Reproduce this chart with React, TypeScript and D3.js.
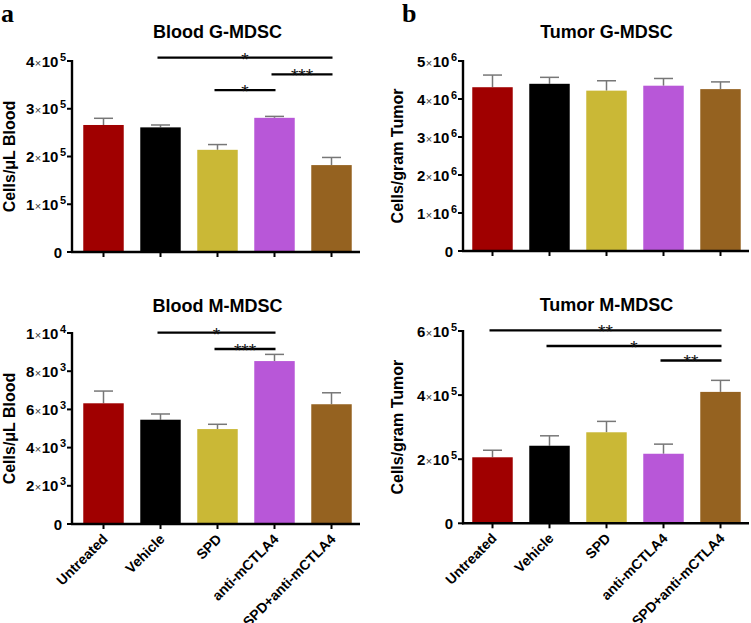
import React from "react";
import * as d3 from "d3";

const categories = ["Untreated", "Vehicle", "SPD", "anti-mCTLA4", "SPD+anti-mCTLA4"];
const colors = ["#a00000", "#000000", "#cab836", "#b857d8", "#956220"];

const bloodGMean = [2.66e5, 2.61e5, 2.14e5, 2.81e5, 1.82e5];
const bloodGErr = [0.14e5, 0.05e5, 0.11e5, 0.03e5, 0.16e5];
const bloodGTicks = [0, 1e5, 2e5, 3e5, 4e5];
const bloodGSig: [number, number, string, number][] = [
  [1, 4, "*", 4.07e5],
  [3, 4, "***", 3.72e5],
  [2, 3, "*", 3.39e5],
];

const bloodMMean = [6.32e3, 5.46e3, 4.97e3, 8.53e3, 6.27e3];
const bloodMErr = [0.64e3, 0.3e3, 0.25e3, 0.35e3, 0.6e3];
const bloodMTicks = [0, 2e3, 4e3, 6e3, 8e3, 1e4];
const bloodMSig: [number, number, string, number][] = [
  [1, 3, "*", 10.02e3],
  [2, 3, "***", 9.16e3],
];

const tumorGMean = [4.31e6, 4.4e6, 4.22e6, 4.35e6, 4.26e6];
const tumorGErr = [0.32e6, 0.17e6, 0.26e6, 0.19e6, 0.19e6];
const tumorGTicks = [0, 1e6, 2e6, 3e6, 4e6, 5e6];
const tumorGSig: [number, number, string, number][] = [];

const tumorMMean = [2.06e5, 2.42e5, 2.84e5, 2.17e5, 4.1e5];
const tumorMErr = [0.22e5, 0.31e5, 0.34e5, 0.3e5, 0.36e5];
const tumorMTicks = [0, 2e5, 4e5, 6e5];
const tumorMSig: [number, number, string, number][] = [
  [0, 4, "**", 6.02e5],
  [1, 4, "*", 5.53e5],
  [3, 4, "**", 5.08e5],
];

const FONT = "Arial, 'Liberation Sans', Helvetica, sans-serif";

type PanelProps = {
  title: string;
  titleY: number;
  yLabel: string;
  yLabelX: number;
  axisX: number;
  x0: number;
  y0: number;
  yTop: number;
  ticks: number[];
  means: number[];
  errs: number[];
  sigs: [number, number, string, number][];
  showXLabels: boolean;
};

function TickLabel({ v, x, y }: { v: number; x: number; y: number }) {
  if (v === 0) {
    return (
      <text x={x - 5} y={y + 5.5} textAnchor="end" fontFamily={FONT} fontWeight="bold" fontSize={15}>
        0
      </text>
    );
  }
  const exp = Math.floor(Math.log10(v) + 1e-9);
  const m = Math.round(v / Math.pow(10, exp));
  return (
    <text x={x - 1} y={y + 5.5} textAnchor="end" fontFamily={FONT} fontWeight="bold" fontSize={15}>
      <tspan>{m}</tspan>
      <tspan fontSize={11} fontWeight="normal" fill="#333" dx={0.5}>×</tspan>
      <tspan dx={0.5}>10</tspan>
      <tspan fontSize={11} dy={-6} dx={1.5}>{exp}</tspan>
    </text>
  );
}

function Panel(p: PanelProps) {
  const maxV = p.ticks[p.ticks.length - 1];
  const y = d3.scaleLinear().domain([0, maxV]).range([p.y0, p.yTop]);
  const x = d3
    .scaleBand<string>()
    .domain(categories)
    .range([p.x0, p.x0 + 285])
    .paddingInner(0.29)
    .paddingOuter(0.145);
  const bw = x.bandwidth();
  const cx = (i: number) => (x(categories[i]) as number) + bw / 2;
  const plotMid = (p.y0 + p.yTop) / 2;
  return (
    <g>
      <text
        x={cx(2)}
        y={p.titleY}
        textAnchor="middle"
        fontFamily={FONT}
        fontWeight="bold"
        fontSize={18}
      >
        {p.title}
      </text>
      <text
        transform={`translate(${p.yLabelX},${plotMid}) rotate(-90)`}
        textAnchor="middle"
        fontFamily={FONT}
        fontWeight="bold"
        fontSize={16}
      >
        {p.yLabel}
      </text>
      {p.means.map((m, i) => (
        <g key={i}>
          <line
            x1={cx(i)}
            x2={cx(i)}
            y1={y(m)}
            y2={y(m + p.errs[i])}
            stroke="#777"
            strokeWidth={1.5}
          />
          <line
            x1={cx(i) - 9.5}
            x2={cx(i) + 9.5}
            y1={y(m + p.errs[i])}
            y2={y(m + p.errs[i])}
            stroke="#777"
            strokeWidth={1.5}
          />
          <rect
            x={x(categories[i])}
            y={y(m)}
            width={bw}
            height={p.y0 - y(m)}
            fill={colors[i]}
          />
        </g>
      ))}
      <line x1={p.axisX} x2={p.axisX} y1={p.yTop - 1} y2={p.y0 + 1} stroke="#000" strokeWidth={2.4} />
      {p.ticks.map((t) => (
        <g key={t}>
          <line x1={p.axisX - 5} x2={p.axisX} y1={y(t)} y2={y(t)} stroke="#000" strokeWidth={2} />
          <TickLabel v={t} x={p.axisX - 5} y={y(t)} />
        </g>
      ))}
      <line x1={p.axisX - 1} x2={p.x0 + 285} y1={p.y0} y2={p.y0} stroke="#000" strokeWidth={2.4} />
      {categories.map((c, i) => (
        <g key={c}>
          <line x1={cx(i)} x2={cx(i)} y1={p.y0} y2={p.y0 + 5} stroke="#000" strokeWidth={2} />
          {p.showXLabels && (
            <text
              transform={`translate(${cx(i) + 5},${p.y0 + 16}) rotate(-45)`}
              textAnchor="end"
              fontFamily={FONT}
              fontWeight="bold"
              fontSize={14}
            >
              {c}
            </text>
          )}
        </g>
      ))}
      {p.sigs.map(([a, b, lab, v], k) => {
        const x1 = cx(a) - 3;
        const x2 = cx(b) + 1;
        const yy = y(v);
        return (
          <g key={k}>
            <line x1={x1} x2={x2} y1={yy} y2={yy} stroke="#000" strokeWidth={2.4} />
            <text
              x={(x1 + x2) / 2}
              y={yy + 8}
              textAnchor="middle"
              fontFamily={FONT}
              fontSize={19}
              fill="#111"
            >
              {lab}
            </text>
          </g>
        );
      })}
    </g>
  );
}

export default function App() {
  return (
    <svg
      width={751}
      height={623}
      style={{ position: "absolute", left: 0, top: 0, background: "#fff" }}
    >
      <rect x={0} y={0} width={751} height={623} fill="#fff" />
      <text x={1} y={22} fontFamily="'Liberation Serif', 'Times New Roman', serif" fontWeight="bold" fontSize={26}>
        a
      </text>
      <text x={402} y={22} fontFamily="'Liberation Serif', 'Times New Roman', serif" fontWeight="bold" fontSize={26}>
        b
      </text>
      <Panel
        title="Blood G-MDSC"
        titleY={38}
        yLabel="Cells/μL Blood"
        yLabelX={15}
        axisX={72}
        x0={75}
        y0={252}
        yTop={61}
        ticks={bloodGTicks}
        means={bloodGMean}
        errs={bloodGErr}
        sigs={bloodGSig}
        showXLabels={false}
      />
      <Panel
        title="Blood M-MDSC"
        titleY={312}
        yLabel="Cells/μL Blood"
        yLabelX={15}
        axisX={72}
        x0={75}
        y0={524}
        yTop={333}
        ticks={bloodMTicks}
        means={bloodMMean}
        errs={bloodMErr}
        sigs={bloodMSig}
        showXLabels={true}
      />
      <Panel
        title="Tumor G-MDSC"
        titleY={38}
        yLabel="Cells/gram Tumor"
        yLabelX={403}
        axisX={463}
        x0={464}
        y0={251}
        yTop={61}
        ticks={tumorGTicks}
        means={tumorGMean}
        errs={tumorGErr}
        sigs={tumorGSig}
        showXLabels={false}
      />
      <Panel
        title="Tumor M-MDSC"
        titleY={311}
        yLabel="Cells/gram Tumor"
        yLabelX={403}
        axisX={463}
        x0={464}
        y0={523.3}
        yTop={331}
        ticks={tumorMTicks}
        means={tumorMMean}
        errs={tumorMErr}
        sigs={tumorMSig}
        showXLabels={true}
      />
    </svg>
  );
}
